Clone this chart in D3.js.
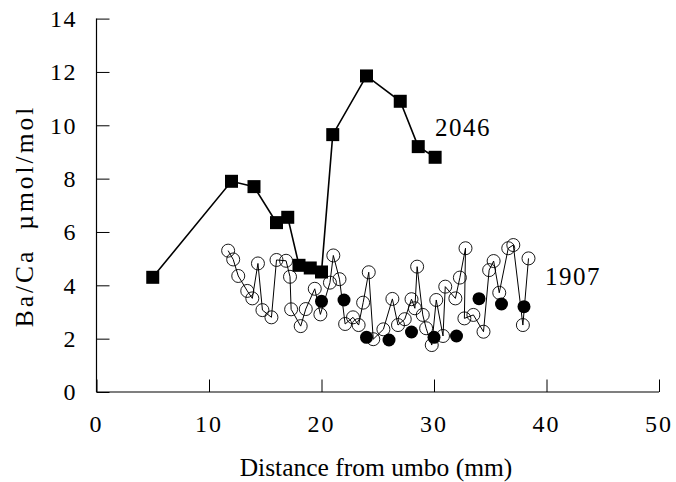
<!DOCTYPE html>
<html>
<head>
<meta charset="utf-8">
<script src="https://cdn.jsdelivr.net/npm/d3@7"></script>
<style>
  body { margin: 0; background: #fff; }
  text { font-family: "Liberation Serif", "Times New Roman", serif; fill: #000; }
</style>
</head>
<body>
<svg id="chart" width="676" height="482"></svg>
<script>
// Axis ticks
const xTicks = [0, 10, 20, 30, 40, 50];
const yTicks = [0, 2, 4, 6, 8, 10, 12, 14];

// Shell 2046 (filled squares)
const shell2046X = [5, 12, 14, 16, 17, 18, 19, 20, 21, 24, 27, 28.6, 30.1];
const shell2046Y = [4.3, 7.9, 7.7, 6.35, 6.55, 4.75, 4.65, 4.5, 9.65, 11.85, 10.9, 9.2, 8.8];

// Shell 1907, high-resolution profile (open circles)
const shell1907X = [11.7, 12.15, 12.6, 13.4, 13.85, 14.35, 14.75, 15.55, 16.0, 16.85, 17.2, 17.3,
  18.15, 18.6, 19.4, 19.9, 20.75, 21.05, 21.6, 22.1, 22.8, 23.3, 23.7, 24.2, 24.6, 25.5,
  26.3, 26.8, 27.4, 28.0, 28.3, 28.5, 29.0, 29.3, 29.8, 30.2, 30.8, 31.0, 31.9, 32.3,
  32.8, 32.7, 33.5, 34.4, 34.9, 35.3, 35.8, 36.6, 37.05, 37.9, 38.4];
const shell1907Y = [5.3, 4.97, 4.35, 3.79, 3.51, 4.82, 3.07, 2.8, 4.95, 4.92, 4.32, 3.1,
  2.47, 3.11, 3.87, 2.91, 4.1, 5.12, 4.23, 2.55, 2.8, 2.51, 3.35, 4.49, 1.98, 2.35,
  3.49, 2.51, 2.73, 3.48, 3.14, 4.7, 2.89, 2.39, 1.76, 3.45, 2.1, 3.95, 3.51, 4.29,
  5.39, 2.76, 2.89, 2.26, 4.57, 4.91, 3.72, 5.39, 5.51, 2.51, 5.01];

// Shell 1907, coarse sampling (filled circles)
const shell1907cX = [20, 22, 24, 26, 28, 30, 32, 34, 36, 38];
const shell1907cY = [3.4, 3.45, 2.05, 1.95, 2.25, 2.05, 2.1, 3.5, 3.3, 3.2];

const svg = d3.select("#chart");
const x = d3.scaleLinear().domain([0, 50]).range([96.5, 659]);
const y = d3.scaleLinear().domain([0, 14]).range([392, 18.6]);

const zip = (xs, ys) => xs.map((v, i) => [v, ys[i]]);
const sq = zip(shell2046X, shell2046Y);
const open = zip(shell1907X, shell1907Y);
const filled = zip(shell1907cX, shell1907cY);

// Axes with inward ticks
const xAxis = svg.append("g").attr("transform", `translate(0,${y(0)})`)
  .call(d3.axisTop(x).tickValues(xTicks).tickSize(12.5).tickFormat(""));
const yAxis = svg.append("g").attr("transform", `translate(${x(0)},0)`)
  .call(d3.axisRight(y).tickValues(yTicks).tickSize(13).tickFormat(""));
[xAxis, yAxis].forEach(g => {
  g.select(".domain").attr("stroke", "#000").attr("stroke-width", 1.2);
  g.selectAll(".tick line").attr("stroke", "#000").attr("stroke-width", 1);
});
// keep the axis lines as plain lines (no end caps)
xAxis.select(".domain").attr("d", `M${x(0)},0H${x(50)}`);
yAxis.select(".domain").attr("d", `M0,${y(0)}V${y(14)}`);

// Tick labels
svg.append("g").selectAll("text").data(xTicks).join("text")
  .attr("x", d => x(d)).attr("y", 432)
  .attr("text-anchor", "middle").attr("font-size", 24).attr("letter-spacing", 2)
  .text(d => d);
svg.append("g").selectAll("text").data(yTicks).join("text")
  .attr("x", 77).attr("y", d => y(d)).attr("dy", "0.35em")
  .attr("text-anchor", "end").attr("font-size", 24).attr("letter-spacing", 1.5)
  .text(d => d);

// Axis titles
svg.append("text").attr("x", 376).attr("y", 476)
  .attr("text-anchor", "middle").attr("font-size", 25.5)
  .text("Distance from umbo (mm)");
svg.append("text").attr("transform", "translate(33,216) rotate(-90)")
  .attr("text-anchor", "middle").attr("font-size", 25.5).attr("letter-spacing", 3)
  .style("white-space", "pre")
  .text("Ba/Ca  µmol/mol");

const line = d3.line().x(d => x(d[0])).y(d => y(d[1]));

// 1907 profile
svg.append("path").datum(open).attr("d", line)
  .attr("fill", "none").attr("stroke", "#000").attr("stroke-width", 1);
svg.append("g").selectAll("circle").data(open).join("circle")
  .attr("cx", d => x(d[0])).attr("cy", d => y(d[1])).attr("r", 6.5)
  .attr("fill", "none").attr("stroke", "#000").attr("stroke-width", 0.9);
svg.append("g").selectAll("circle").data(filled).join("circle")
  .attr("cx", d => x(d[0])).attr("cy", d => y(d[1])).attr("r", 6.5)
  .attr("fill", "#000");

// 2046 profile
svg.append("path").datum(sq).attr("d", line)
  .attr("fill", "none").attr("stroke", "#000").attr("stroke-width", 1.6);
const s = 13;
svg.append("g").selectAll("rect").data(sq).join("rect")
  .attr("x", d => x(d[0]) - s / 2).attr("y", d => y(d[1]) - s / 2)
  .attr("width", s).attr("height", s).attr("fill", "#000");

// Series labels
svg.append("text").attr("x", 435).attr("y", 136).attr("font-size", 25).attr("letter-spacing", 1.5).text("2046");
svg.append("text").attr("x", 545).attr("y", 285).attr("font-size", 25).attr("letter-spacing", 1.5).text("1907");
</script>
</body>
</html>
